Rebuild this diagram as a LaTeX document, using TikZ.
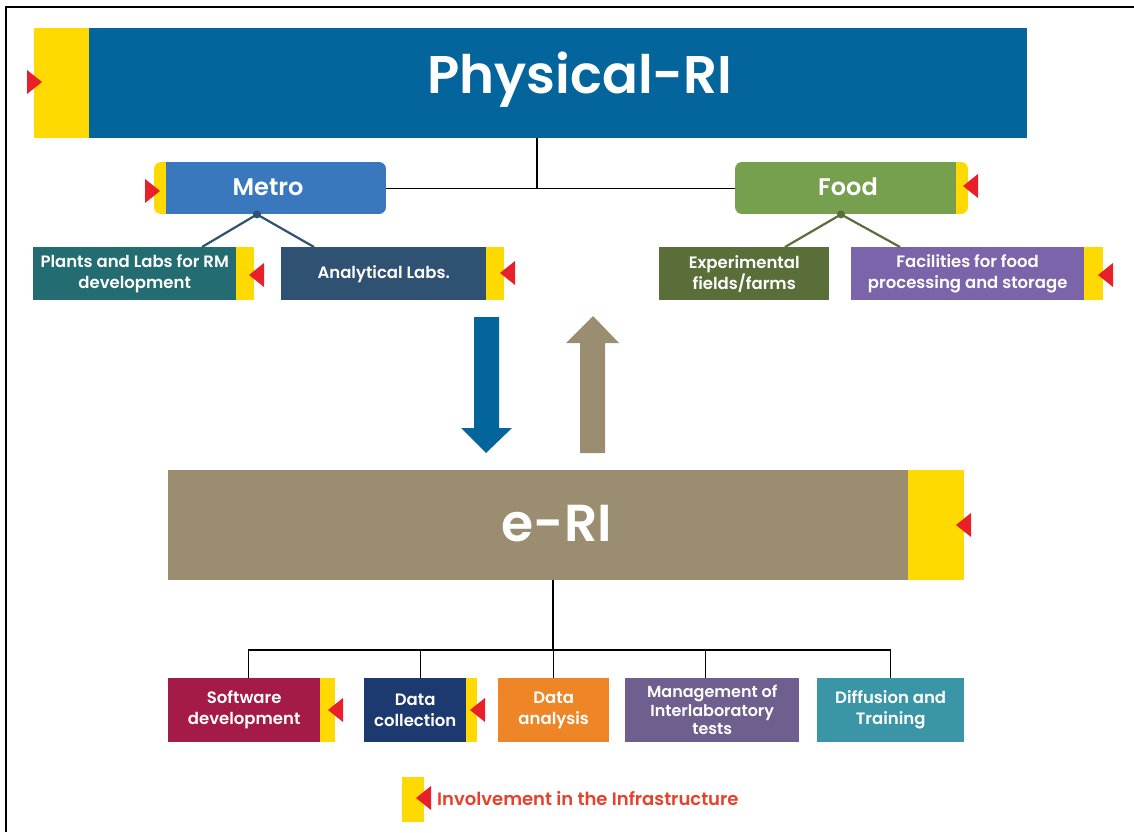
\documentclass[tikz,border=0pt]{standalone}
\usepackage{fontspec}
\setmainfont{Poppins}[BoldFont={Poppins SemiBold}]
\usetikzlibrary{calc}
\definecolor{physblue}{HTML}{03659B}
\definecolor{flagyellow}{HTML}{FFDA00}
\definecolor{flagred}{HTML}{E8202A}
\definecolor{metroblue}{HTML}{3A78BE}
\definecolor{foodgreen}{HTML}{76A04E}
\definecolor{plantsteal}{HTML}{236D72}
\definecolor{labslate}{HTML}{2F5273}
\definecolor{fieldgreen}{HTML}{5A6E3A}
\definecolor{facilpurple}{HTML}{7B64A9}
\definecolor{eritan}{HTML}{9A8D70}
\definecolor{softred}{HTML}{A51B47}
\definecolor{collnavy}{HTML}{1C3A6F}
\definecolor{anorange}{HTML}{EE8627}
\definecolor{mgmtpurple}{HTML}{6E5F8E}
\definecolor{difteal}{HTML}{3A96A6}
\definecolor{legendred}{HTML}{E8402A}
\newcommand\flagleft[2]{\fill[flagred] (#1,#2) -- ++(15,-12) -- ++(0,24) -- cycle;}
\newcommand\flagright[2]{\fill[flagred] (#1,#2) -- ++(-15,-12) -- ++(0,24) -- cycle;}
\begin{document}
\begin{tikzpicture}[x=1pt,y=-1pt,
  box/.style={anchor=north west, inner sep=0pt, align=center, text=white,
    font=\bfseries\fontsize{16.5}{21}\selectfont},
  caption/.style={text=white, inner sep=0pt, font=\bfseries\fontsize{#1}{#1}\selectfont},
  tree/.style={line width=1.2pt, black},
  branch/.style={line width=2.2pt},
]
\useasboundingbox (0,0) rectangle (1134,832);

% frame
\draw[line width=2.5pt] (1134,7) -- (6,7) -- (6,832);

% Physical-RI banner
\fill[flagyellow] (34,28) rectangle (89,138);
\node[box, fill=physblue, minimum width=938, minimum height=110] (phys) at (89,28) {};
\node[caption=53] at (580,80) {Physical-RI};
\flagright{42}{82}

% Metro
\begin{scope}
  \clip[rounded corners=7pt] (154,162) rectangle (386,214);
  \fill[flagyellow] (154,162) rectangle (166,214);
  \fill[metroblue] (166,162) rectangle (386,214);
\end{scope}
\node[box, minimum width=232, minimum height=52] (metro) at (154,162) {};
\node[caption=24] at (268,187) {Metro};
\flagright{160}{191}

% Food
\begin{scope}
  \clip[rounded corners=7pt] (735,162) rectangle (968,214);
  \fill[foodgreen] (735,162) rectangle (956,214);
  \fill[flagyellow] (956,162) rectangle (968,214);
\end{scope}
\node[box, minimum width=233, minimum height=52] (food) at (735,162) {};
\node[caption=24] at (848,187) {Food};
\flagleft{963}{186}

% Metro sub-units
\node[box, fill=plantsteal, minimum width=203, minimum height=53] (plants) at (33,247)
  {Plants and Labs for RM\\development};
\fill[flagyellow] (236,247) rectangle (254,300);
\flagleft{249}{275}
\node[box, fill=labslate, minimum width=205, minimum height=53] (labs) at (281,247)
  {Analytical Labs.};
\fill[flagyellow] (486,247) rectangle (504,300);
\flagleft{500}{273}

% Food sub-units
\node[box, fill=fieldgreen, minimum width=170, minimum height=53] (fields) at (659,247)
  {Experimental\\fields/farms};
\node[box, fill=facilpurple, minimum width=233, minimum height=53] (facil) at (851,247)
  {Facilities for food\\processing and storage};
\fill[flagyellow] (1084,247) rectangle (1103,300);
\flagleft{1098}{275}

% tree connectors
\coordinate (mdot) at ($(metro.south west)+(103,0)$);
\coordinate (fdot) at ($(food.south west)+(106,0)$);
\draw[tree] (metro.east) -- (food.west);
\draw[tree] (phys.south -| 537,0) -- (537,188);
\draw[branch, labslate] ($(plants.north west)+(169,0)$) -- (mdot) -- ($(labs.north west)+(33,0)$);
\fill[labslate] (mdot) circle (4pt);
\draw[branch, fieldgreen] ($(fields.north west)+(126,0)$) -- (fdot) -- ($(facil.north west)+(49,0)$);
\fill[fieldgreen] (fdot) circle (4pt);

% exchange arrows
\fill[physblue] (474,317) -- (499,317) -- (499,428) -- (512,428) -- (486,453)
  -- (461,428) -- (474,428) -- cycle;
\fill[eritan] (580,453) -- (605,453) -- (605,343) -- (619,343) -- (593,316)
  -- (566,343) -- (580,343) -- cycle;

% e-RI banner
\node[box, fill=eritan, minimum width=740, minimum height=110] (eri) at (168,470) {};
\fill[flagyellow] (908,470) rectangle (964,580);
\node[caption=52] at (557,524) {e-RI};
\flagleft{956}{525}

% e-RI services
\node[box, fill=softred, minimum width=152, minimum height=64] (soft) at (168,678)
  {Software\\development};
\fill[flagyellow] (320,678) rectangle (335,742);
\flagleft{328}{710}
\node[box, fill=collnavy, minimum width=102, minimum height=64] (coll) at (364,678)
  {Data\\collection};
\fill[flagyellow] (466,678) rectangle (477,742);
\flagleft{470}{710}
\node[box, fill=anorange, minimum width=111, minimum height=64] (anal) at (498,678)
  {Data\\analysis};
\node[box, fill=mgmtpurple, minimum width=174, minimum height=64,
  font=\bfseries\fontsize{16}{18.5}\selectfont] (mgmt) at (625,678)
  {Management of\\Interlaboratory\\tests};
\node[box, fill=difteal, minimum width=147, minimum height=64] (diff) at (817,678)
  {Diffusion and\\Training};

\coordinate (hub) at (553,650);
\draw[tree] (eri.south -| hub) -- (hub);
\draw[tree] ($(soft.north)+(4,0)$) |- (hub) -| (diff.north);
\draw[tree] ($(coll.north)+(5,0)$) -- ++(0,-28);
\draw[tree] (anal.north) -- ++(0,-28);
\draw[tree] ($(mgmt.north)+(-7,0)$) -- ++(0,-28);

% legend
\fill[flagyellow] (402,777) rectangle (424,822);
\flagleft{416}{798}
\node[anchor=west, inner sep=0pt, text=legendred, font=\bfseries\fontsize{18}{18}\selectfont]
  (legend) at (437,799) {Involvement in the Infrastructure};
\end{tikzpicture}
\end{document}
